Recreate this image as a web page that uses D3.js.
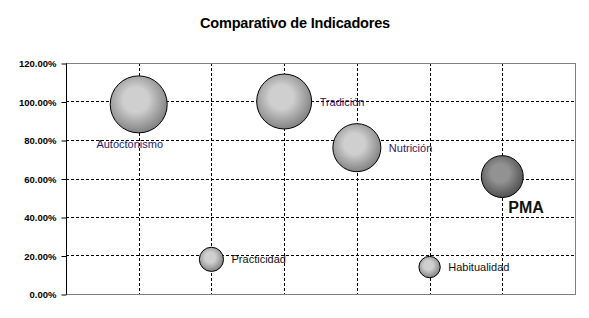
<!DOCTYPE html>
<html>
<head>
<meta charset="utf-8">
<script src="https://cdn.jsdelivr.net/npm/d3@7/dist/d3.min.js"></script>
<style>
  body { margin: 0; background: #fff; }
  svg { display: block; font-family: Arial, "Liberation Sans", sans-serif; }
</style>
</head>
<body>
<svg width="589" height="318"></svg>
<script>
// datos del grafico
var nombres = ["Autoctonismo", "Practicidad", "Tradición", "Nutrición", "Habitualidad", "PMA"];
var posX = [1, 2, 3, 4, 5, 6];
var valores = [0.985, 0.18, 1.00, 0.76, 0.14, 0.61];
var tamanos = [1.00, 0.18, 0.93, 0.71, 0.14, 0.54];
var ticksY = [0, 0.2, 0.4, 0.6, 0.8, 1.0, 1.2];

var data = nombres.map(function (n, i) {
  return { nombre: n, x: posX[i], valor: valores[i], tam: tamanos[i] };
});

var svg = d3.select("svg");
var mIzq = 66, mDer = 575, mSup = 63, mInf = 294;

// Titulo
svg.append("text")
  .attr("x", 295)
  .attr("y", 28)
  .attr("text-anchor", "middle")
  .attr("font-size", "14.5px")
  .attr("font-weight", "bold")
  .attr("letter-spacing", "-0.2")
  .text("Comparativo de Indicadores");

var x = d3.scaleLinear().domain([0, 7]).range([mIzq, mDer]);
var y = d3.scaleLinear().domain([0, 1.2]).range([mInf, mSup]);
var r = d3.scaleSqrt().domain([0, 1]).range([0, 28.5]);

// gradientes
var defs = svg.append("defs");
function grad(id, c1, c2) {
  var g = defs.append("radialGradient").attr("id", id)
    .attr("cx", "45%").attr("cy", "42%").attr("r", "62%");
  g.append("stop").attr("offset", "0%").attr("stop-color", c1);
  g.append("stop").attr("offset", "35%").attr("stop-color", c1);
  g.append("stop").attr("offset", "100%").attr("stop-color", c2);
}
grad("gris", "#cfcfcf", "#7a7a7a");
grad("oscuro", "#929292", "#4a4a4a");

// rejilla
var g = svg.append("g");
g.selectAll(".hgrid")
  .data(ticksY.filter(function (d) { return d > 0 && d < 1.2; }))
  .enter().append("line")
  .attr("x1", mIzq).attr("x2", mDer)
  .attr("y1", function (d) { return Math.round(y(d)) + 0.5; })
  .attr("y2", function (d) { return Math.round(y(d)) + 0.5; })
  .attr("stroke", "#000").attr("stroke-dasharray", "3,2");

g.selectAll(".vgrid")
  .data(posX)
  .enter().append("line")
  .attr("x1", function (d) { return Math.round(x(d)) + 0.5; })
  .attr("x2", function (d) { return Math.round(x(d)) + 0.5; })
  .attr("y1", mSup).attr("y2", mInf)
  .attr("stroke", "#000").attr("stroke-dasharray", "3,2");

// borde del area
svg.append("rect")
  .attr("x", mIzq + 0.5).attr("y", mSup + 0.5)
  .attr("width", mDer - mIzq).attr("height", mInf - mSup)
  .attr("fill", "none").attr("stroke", "#808080");

// eje Y
var ejeY = svg.append("g")
  .attr("transform", "translate(" + (mIzq + 0.5) + ",0.5)")
  .call(d3.axisLeft(y).tickValues(ticksY).tickSize(5).tickPadding(5)
    .tickFormat(function (d) { return (d * 100).toFixed(2) + "%"; }));
ejeY.select(".domain").attr("d", "M0," + mSup + "V" + mInf).attr("stroke", "#000");
ejeY.selectAll("text")
  .attr("font-size", "9.5px")
  .attr("font-weight", "bold")
  .attr("font-family", "Arial, 'Liberation Sans', sans-serif")
  .attr("fill", "#000");

// burbujas (mayor primero)
svg.append("g").selectAll("circle")
  .data(data.slice().sort(function (a, b) { return b.tam - a.tam; }))
  .enter().append("circle")
  .attr("cx", function (d) { return x(d.x); })
  .attr("cy", function (d) { return y(d.valor); })
  .attr("r", function (d) { return r(d.tam); })
  .attr("fill", function (d) { return d.nombre == "PMA" ? "url(#oscuro)" : "url(#gris)"; })
  .attr("stroke", "#000")
  .attr("stroke-width", 1);

// etiquetas
var colores = { "Autoctonismo": "#1e1a70", "Tradición": "#35185c", "Nutrición": "#35185c" };
svg.append("g").selectAll("text")
  .data(data)
  .enter().append("text")
  .attr("x", function (d) {
    if (d.nombre == "Autoctonismo") return x(d.x) - 9;
    if (d.nombre == "PMA") return x(d.x) + 6;
    return x(d.x) + r(d.tam) + 8;
  })
  .attr("y", function (d) {
    if (d.nombre == "Autoctonismo") return y(d.valor) + 44;
    if (d.nombre == "PMA") return y(d.valor) + 36;
    return y(d.valor) + 4;
  })
  .attr("text-anchor", function (d) { return d.nombre == "Autoctonismo" ? "middle" : "start"; })
  .attr("font-size", function (d) { return d.nombre == "PMA" ? "16px" : "11px"; })
  .attr("font-weight", function (d) { return d.nombre == "PMA" ? "bold" : "normal"; })
  .attr("fill", function (d) { return colores[d.nombre] || "#111"; })
  .text(function (d) { return d.nombre; });
</script>
</body>
</html>
